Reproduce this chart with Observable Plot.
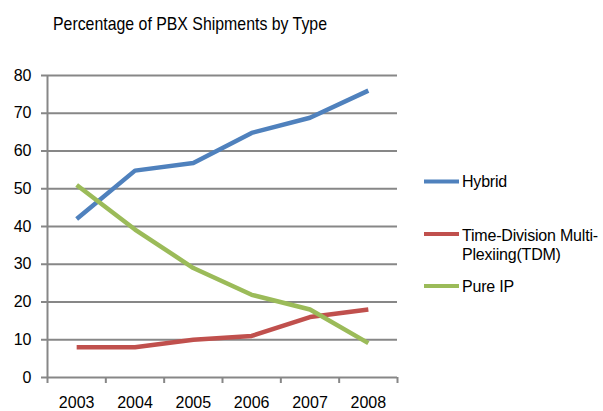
<!DOCTYPE html>
<html>
<head>
<meta charset="utf-8">
<script src="https://cdn.jsdelivr.net/npm/d3@7"></script>
<script src="https://cdn.jsdelivr.net/npm/@observablehq/plot@0.6"></script>
<style>
  html, body { margin: 0; padding: 0; background: #fff; }
  #wrap { position: relative; width: 603px; height: 411px; font-family: "Liberation Sans", Arial, sans-serif; }
  #title, #legend { display: block; }
  #legend { position: absolute; left: 0; top: 0; pointer-events: none; }
</style>
</head>
<body>
<div id="wrap"></div>
<script>
const titleText = "Percentage of PBX Shipments by Type";
const years = [2003, 2004, 2005, 2006, 2007, 2008];
const seriesNames = ["Hybrid", "Time-Division Multi-Plexiing(TDM)", "Pure IP"];
const seriesColors = ["#4F81BD", "#C0504D", "#9BBB59"];
const hybrid = [42, 54.8, 56.8, 64.8, 68.8, 76];
const tdm = [8, 8, 10, 11, 16, 18];
const pureIP = [51, 39.2, 29, 21.9, 18, 9.1];
const yTicks = [0, 10, 20, 30, 40, 50, 60, 70, 80];

const seriesValues = [hybrid, tdm, pureIP];
const data = [];
seriesNames.forEach((name, i) => {
  years.forEach((yr, j) => data.push({series: name, year: yr, value: seriesValues[i][j]}));
});
const boundaries = [years[0] - 0.5, ...years.map(y => y + 0.5)];

const wrap = document.getElementById("wrap");
const ns = "http://www.w3.org/2000/svg";

// Title above the chart
const tsvg = document.createElementNS(ns, "svg");
tsvg.setAttribute("id", "title");
tsvg.setAttribute("width", 603);
tsvg.setAttribute("height", 40);
const tt = document.createElementNS(ns, "text");
tt.setAttribute("x", 53);
tt.setAttribute("y", 30);
tt.setAttribute("font-size", 19);
tt.setAttribute("font-family", "Liberation Sans, Arial, sans-serif");
tt.setAttribute("textLength", 274);
tt.setAttribute("lengthAdjust", "spacingAndGlyphs");
tt.textContent = titleText;
tsvg.appendChild(tt);
wrap.appendChild(tsvg);

const grid = "#878787";
const chart = Plot.plot({
  width: 603,
  height: 371,
  marginLeft: 47,
  marginRight: 206,
  marginTop: 35,
  marginBottom: 34,
  style: {fontFamily: "Liberation Sans, Arial, sans-serif", fontSize: "16px", color: "black", background: "white"},
  x: {type: "linear", domain: [boundaries[0], boundaries[boundaries.length - 1]]},
  y: {domain: [0, 80]},
  color: {domain: seriesNames, range: seriesColors},
  marks: [
    Plot.ruleY(yTicks, {stroke: grid, strokeWidth: 2}),
    Plot.ruleX([boundaries[0]], {stroke: grid, strokeWidth: 2}),
    Plot.axisY({ticks: yTicks, tickSize: 6, tickPadding: 10, stroke: grid, strokeWidth: 2, fill: "black", fontSize: 16, label: null}),
    Plot.axisX(boundaries, {tickSize: 6, tickFormat: () => "", stroke: grid, strokeWidth: 2, label: null}),
    Plot.axisX(years, {tickSize: 0, tickPadding: 19, tickFormat: d => String(d), fill: "black", fontSize: 16, label: null}),
    Plot.line(data, {x: "year", y: "value", z: "series", stroke: "series", strokeWidth: 4.5, strokeLinejoin: "round", strokeLinecap: "butt"})
  ]
});
wrap.appendChild(chart);

// Legend overlay on the right
const lsvg = document.createElementNS(ns, "svg");
lsvg.setAttribute("id", "legend");
lsvg.setAttribute("width", 603);
lsvg.setAttribute("height", 411);
const legendRows = [
  {line: 181.5, lines: [[seriesNames[0], 187]]},
  {line: 234, lines: [["Time-Division Multi-", 241], ["Plexiing(TDM)", 260]]},
  {line: 286, lines: [[seriesNames[2], 292]]}
];
legendRows.forEach((row, i) => {
  const l = document.createElementNS(ns, "line");
  l.setAttribute("x1", 424); l.setAttribute("x2", 459);
  l.setAttribute("y1", row.line); l.setAttribute("y2", row.line);
  l.setAttribute("stroke", seriesColors[i]);
  l.setAttribute("stroke-width", 4);
  lsvg.appendChild(l);
  row.lines.forEach(([txt, by]) => {
    const t = document.createElementNS(ns, "text");
    t.setAttribute("x", 462);
    t.setAttribute("y", by);
    t.setAttribute("font-size", 16);
    t.setAttribute("letter-spacing", "-0.2");
    t.setAttribute("font-family", "Liberation Sans, Arial, sans-serif");
    t.textContent = txt;
    lsvg.appendChild(t);
  });
});
wrap.appendChild(lsvg);
</script>
</body>
</html>
